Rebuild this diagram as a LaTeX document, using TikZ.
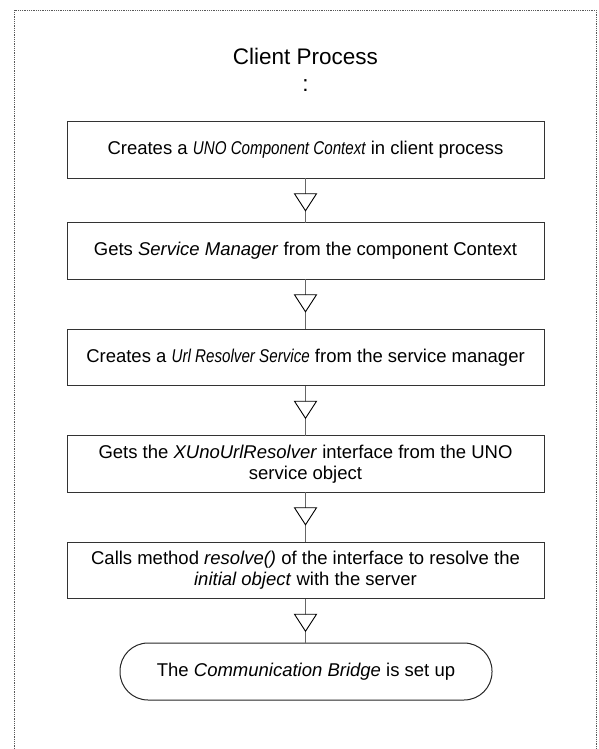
\documentclass[tikz,border=0pt]{standalone}
\usepackage{fontspec}
\setmainfont{Liberation Sans}
\newfontfamily\narrowsans[FakeStretch=0.82]{Liberation Sans}
\usetikzlibrary{calc}
\newcommand\nit[1]{{\narrowsans\itshape #1}}
\tikzset{
  every node/.style={inner sep=0pt, outer sep=0pt},
  bodytext/.style={font=\fontsize{18.5}{21}\selectfont, align=center},
  stepbox/.style={bodytext, draw=black!80, line width=1pt, rectangle,
    minimum width=477pt, minimum height=56.5pt},
  endbox/.style={bodytext, draw=black!85, line width=1pt, rectangle,
    rounded corners=28pt, minimum width=372pt, minimum height=57pt},
  conn/.style={draw=black!60, line width=1.3pt},
  tri/.style={draw=black, line width=0.9pt, fill=white, line join=miter},
  frame/.style={draw=black!65, line width=0.9pt, dash pattern=on 1pt off 0.8pt},
}
\begin{document}
\begin{tikzpicture}[x=1pt, y=-1pt]
\useasboundingbox (0,0) rectangle (599,749);
% dotted outline of the process (open at the bottom)
\draw[frame] (14,760) -- (14,10) -- (596,10) -- (596,760);

\node[font=\fontsize{22.5}{26}\selectfont] (title) at (305.5,56) {Client Process};
\node[font=\fontsize{22.5}{26}\selectfont] (colon) at (305.5,86) {:};

\node[stepbox] (s1) at (305.5,150) {Creates a \nit{UNO Component Context} in client process};
\node[stepbox] (s2) at (305.5,251) {Gets \textit{Service Manager} from the component Context};
\node[stepbox] (s3) at (305.5,357.5) {Creates a \nit{Url Resolver Service} from the service manager};
\node[stepbox] (s4) at (305.5,464) {Gets the \textit{XUnoUrlResolver} interface from the UNO\\service object};
\node[stepbox] (s5) at (305.5,570.5) {Calls method \textit{resolve()} of the interface to resolve the\\\textit{initial object} with the server};
\node[endbox] (done) at (306,671.5) {The \textit{Communication Bridge} is set up};

% connectors with open triangle markers
\foreach \a/\b in {s1/s2, s2/s3, s3/s4, s4/s5, s5/done}{
  \draw[conn] (\a.south) -- (\a.south |- \b.north);
  \draw[tri] ($(\a.south)+(-11,15.5)$) -- ++(22,0) -- ++(-11,17) -- cycle;
}
\end{tikzpicture}
\end{document}
